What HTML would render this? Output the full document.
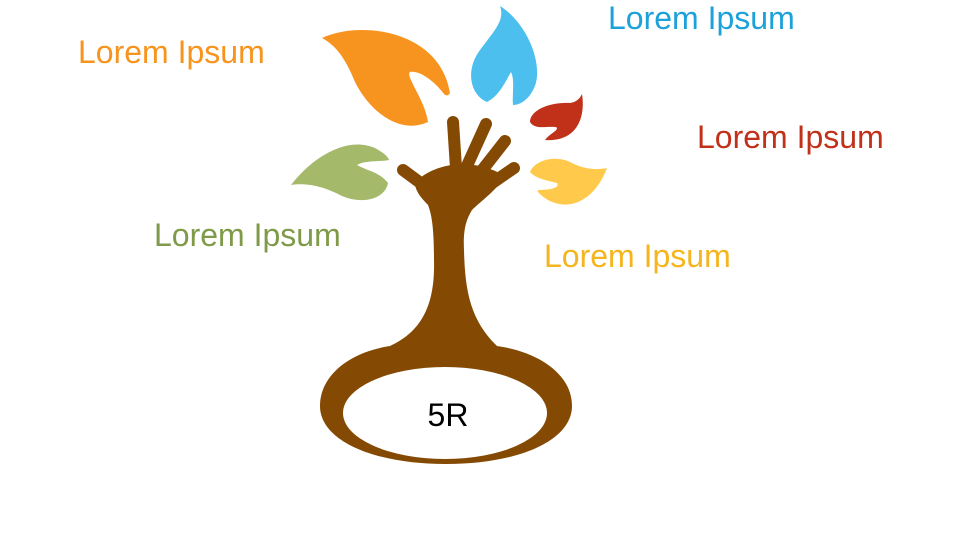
<!DOCTYPE html>
<html><head><meta charset="utf-8"><style>
html,body{margin:0;padding:0;background:#fff;width:960px;height:540px;overflow:hidden}
svg{display:block}
text{font-family:"Liberation Sans",sans-serif;font-size:32px}
</style></head><body>
<svg width="960" height="540" viewBox="0 0 960 540">
<path fill="#F7941F" d="M322,38 C360,20 440,30 450,93 C448,96 446,96 444,94 C435,82 420,70 410,72 C405,76 425,100 428,122 C400,135 370,112 355,82 C345,57 335,45 322,38 Z"/>
<path fill="#4DBFEF" d="M500,6 C530,25 545,70 533,90 C528,100 520,105 513,105 C512,95 515,80 511,72 C505,82 500,95 487,102 C470,95 465,70 480,50 C495,30 505,20 500,6 Z"/>
<path fill="#C1311A" d="M582,94 C586,120 575,142 545,140 C550,133 560,130 556,127 C545,126 535,130 530,122 C530,110 550,102 570,103 C577,102 580,98 582,94 Z"/>
<path fill="#FFCA4B" d="M607,168 C595,200 570,212 548,200 C540,195 537,192 538,190 C550,190 560,188 557,183 C545,180 535,178 530,172 C535,160 555,155 570,162 C585,170 598,170 607,168 Z"/>
<path fill="#A4B96A" d="M291,185 C310,160 345,135 375,148 C382,152 388,156 389,160 C380,162 365,160 357,165 C365,170 380,172 388,183 C385,200 360,205 340,195 C320,185 305,183 291,185 Z"/>
<g fill="#844A03" stroke="#844A03">
<g stroke-width="12" stroke-linecap="round" fill="none">
<line x1="430" y1="190" x2="403" y2="170"/>
<line x1="456" y1="168" x2="453" y2="122"/>
<line x1="466" y1="168" x2="486" y2="124"/>
<line x1="476" y1="178" x2="505" y2="141"/>
<line x1="485" y1="188" x2="514" y2="168"/>
</g>
<path stroke="none" d="M415,183 C430,165 470,155 505,176 C495,192 482,200 472,210 C466,220 463,230 464,250 C465,290 470,320 497,346 C540,352 572,375 572,406 C572,440 520,464 446,464 C372,464 320,440 320,406 C320,375 350,352 390,346 C425,330 435,300 434,260 C434,230 432,215 428,205 C420,197 415,190 415,183 Z"/>
</g>
<ellipse cx="445" cy="413" rx="102" ry="46" fill="#fff"/>
<text x="448" y="426" text-anchor="middle" fill="#000" style="font-size:32px">5R</text>
<text x="78" y="63" fill="#F7941D">Lorem Ipsum</text>
<text x="608" y="29" fill="#1DA1DA">Lorem Ipsum</text>
<text x="697" y="148" fill="#C1311A">Lorem Ipsum</text>
<text x="154" y="246" fill="#7F9A48">Lorem Ipsum</text>
<text x="544" y="267" fill="#F5B51E">Lorem Ipsum</text>
</svg>
</body></html>
